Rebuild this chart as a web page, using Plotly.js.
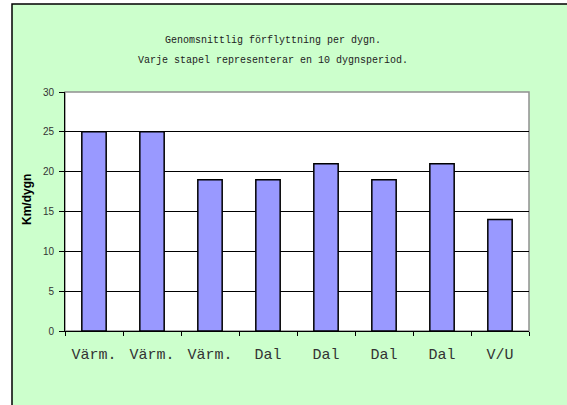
<!DOCTYPE html>
<html>
<head>
<meta charset="utf-8">
<script src="https://cdn.plot.ly/plotly-3.0.1.min.js"></script>
<style>html,body{margin:0;padding:0;background:#fff;}#chart{width:567px;height:405px;}</style>
</head>
<body>
<div id="chart"></div>
<script>
const categories = ["Värm.", "Värm.", "Värm.", "Dal", "Dal", "Dal", "Dal", "V/U"];
const values = [25, 25, 19, 19, 21, 19, 21, 14];
const titleLines = ["Genomsnittlig förflyttning per dygn.", "Varje stapel representerar en 10 dygnsperiod."];
const yTitle = "Km/dygn";
const yTicks = [0, 5, 10, 15, 20, 25, 30];

const xs = categories.map((c, i) => i);

const trace = {
  type: "bar",
  x: xs,
  y: values,
  marker: {color: "#9999FF", line: {color: "#000", width: 1.5}},
  width: 0.42,
  hoverinfo: "skip"
};

const layout = {
  width: 567, height: 405,
  margin: {l: 65, r: 38, t: 92, b: 74},
  paper_bgcolor: "#ffffff",
  plot_bgcolor: "rgba(0,0,0,0)",
  showlegend: false,
  xaxis: {
    range: [-0.5, 7.5],
    tickmode: "array", tickvals: xs, ticktext: categories,
    ticks: "", showgrid: false, zeroline: false,
    showline: true, linecolor: "#000", linewidth: 1,
    tickfont: {family: "Liberation Mono, DejaVu Sans Mono, monospace", size: 15, color: "#333"},
    ticklabelstandoff: 9,
    minor: {tick0: -0.5, dtick: 1, ticks: "outside", ticklen: 4, tickcolor: "#000", tickwidth: 1, showgrid: false}
  },
  yaxis: {
    range: [0, 30], tickmode: "array", tickvals: yTicks,
    ticks: "outside", ticklen: 5, tickcolor: "#000", tickwidth: 1,
    showgrid: true, gridcolor: "#000", gridwidth: 1,
    zeroline: false, showline: true, linecolor: "#000", linewidth: 1,
    tickfont: {family: "Liberation Sans, Arial, sans-serif", size: 10, color: "#333"},
    ticklabelstandoff: 3
  },
  shapes: [
    {type: "rect", xref: "paper", yref: "paper", x0: -53/464, x1: 3, y0: -2, y1: 327/239, fillcolor: "#CCFFCC", line: {color: "#000", width: 1.5}, layer: "below"},
    {type: "rect", xref: "paper", yref: "paper", x0: 0, x1: 1, y0: 0, y1: 1, fillcolor: "#ffffff", line: {color: "#909090", width: 1.5}, layer: "below"}
  ],
  annotations: [
    {xref: "paper", yref: "paper", x: 208/464, y: (331-40)/239, text: titleLines[0], showarrow: false, xanchor: "center", yanchor: "middle",
     font: {family: "Liberation Mono, DejaVu Sans Mono, monospace", size: 10, color: "#222"}},
    {xref: "paper", yref: "paper", x: 208/464, y: (331-60)/239, text: titleLines[1], showarrow: false, xanchor: "center", yanchor: "middle",
     font: {family: "Liberation Mono, DejaVu Sans Mono, monospace", size: 10, color: "#222"}},
    {xref: "paper", yref: "paper", x: (27-65)/464, y: (331-200)/239, text: yTitle, textangle: -90, showarrow: false, xanchor: "center", yanchor: "middle",
     font: {family: "Liberation Sans, Arial, sans-serif", size: 12, color: "#000", weight: "bold"}}
  ]
};

Plotly.newPlot("chart", [trace], layout, {displayModeBar: false, staticPlot: true});
</script>
</body>
</html>
